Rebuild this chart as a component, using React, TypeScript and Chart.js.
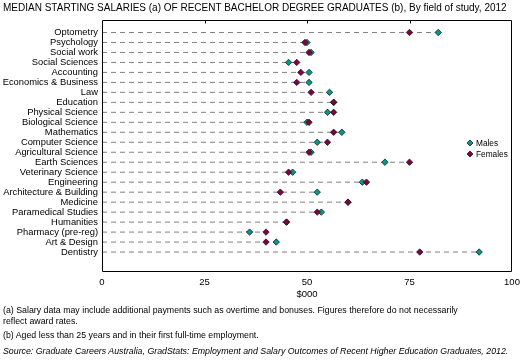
import React, { useEffect, useRef } from 'react';
import { Chart, registerables } from 'chart.js';

Chart.register(...registerables);

const categories = [
  'Optometry', 'Psychology', 'Social work', 'Social Sciences', 'Accounting',
  'Economics & Business', 'Law', 'Education', 'Physical Science', 'Biological Science',
  'Mathematics', 'Computer Science', 'Agricultural Science', 'Earth Sciences',
  'Veterinary Science', 'Engineering', 'Architecture & Building', 'Medicine',
  'Paramedical Studies', 'Humanities', 'Pharmacy (pre-reg)', 'Art & Design', 'Dentistry',
];
const males = [82, 50, 51, 45.5, 50.5, 50.5, 55.5, 56.5, 55, 50, 58.5, 52.5, 51, 69, 46.5, 63.5, 52.5, 60, 53.5, 45, 36, 42.5, 92];
const females = [75, 49.5, 50.5, 47.5, 48.5, 47.5, 51, 56.5, 56.5, 50.5, 56.5, 55, 50.5, 75, 45.5, 64.5, 43.5, 60, 52.5, 45, 40, 40, 77.5];
const xTickValues = [0, 25, 50, 75, 100];
const seriesNames = ['Males', 'Females'];
const seriesColors = ['#00998a', '#820045'];

const FONT = '"Liberation Sans", Arial, Helvetica, sans-serif';

const boxPlugin = {
  id: 'boxAndTicks',
  afterDraw(chart: any) {
    const { ctx, chartArea: a, scales } = chart;
    ctx.save();
    ctx.strokeStyle = '#000';
    ctx.lineWidth = 1;
    const l = Math.round(a.left) + 0.5;
    const r = Math.round(a.right) - 0.5;
    const t = Math.round(a.top) + 0.5;
    const b = Math.round(a.bottom) - 0.5;
    ctx.beginPath();
    ctx.moveTo(l, t);
    ctx.lineTo(r, t);
    ctx.lineTo(r, b);
    ctx.lineTo(l, b);
    ctx.closePath();
    ctx.stroke();
    ctx.beginPath();
    for (const v of xTickValues.slice(1, -1)) {
      const x = Math.round(scales.x.getPixelForValue(v)) + 0.5;
      ctx.moveTo(x, t);
      ctx.lineTo(x, t + 3);
    }
    ctx.stroke();
    ctx.restore();
  },
};

export default function App() {
  const ref = useRef<HTMLCanvasElement>(null);

  useEffect(() => {
    document.body.style.margin = '0';
    const lineSets = categories.map((_, i) => ({
      type: 'scatter' as const,
      label: 'line' + i,
      data: [
        { x: 0, y: i },
        { x: Math.max(males[i], females[i]), y: i },
      ],
      showLine: true,
      borderColor: '#808080',
      borderWidth: 1,
      borderDash: [5, 4],
      pointRadius: 0,
      order: 10,
    }));
    const pointSets = [males, females].map((vals, s) => ({
      type: 'scatter' as const,
      label: seriesNames[s],
      data: vals.map((v, i) => ({ x: v, y: i })),
      pointStyle: 'rectRot',
      pointRadius: 3.2,
      backgroundColor: seriesColors[s],
      borderColor: '#1a1a1a',
      borderWidth: 0.8,
      showLine: false,
      order: s === 0 ? 1 : 0,
    }));

    const chart = new Chart(ref.current as HTMLCanvasElement, {
      type: 'scatter',
      data: { datasets: [...lineSets, ...pointSets] as any },
      options: {
        animation: false,
        responsive: false,
        events: [],
        layout: { padding: { left: 0, top: 20, right: 17, bottom: 63 } },
        plugins: { legend: { display: false }, tooltip: { enabled: false }, title: { display: false } },
        scales: {
          x: {
            type: 'linear',
            position: 'bottom',
            min: 0,
            max: 100,
            afterBuildTicks: (scale: any) => {
              scale.ticks = xTickValues.map((v) => ({ value: v }));
            },
            afterFit: (scale: any) => {
              scale.height = 28;
            },
            grid: { display: false, drawTicks: false },
            border: { display: false },
            ticks: { color: '#000', font: { family: FONT, size: 9.5 }, padding: 5, maxRotation: 0 },
            title: {
              display: true,
              text: '$000',
              color: '#000',
              font: { family: FONT, size: 9.5 },
              padding: { top: 0, bottom: 0 },
            },
          },
          y: {
            type: 'linear',
            reverse: true,
            min: -1.25,
            max: 24,
            afterBuildTicks: (scale: any) => {
              scale.ticks = categories.map((_, i) => ({ value: i }));
            },
            afterFit: (scale: any) => {
              scale.width = 102;
            },
            grid: { display: false, drawTicks: false },
            border: { display: false },
            ticks: {
              color: '#000',
              font: { family: FONT, size: 9.4 },
              padding: 4,
              autoSkip: false,
              callback: (v: any) => categories[v as number] ?? '',
            },
          },
        },
      },
      plugins: [boxPlugin],
    });
    return () => chart.destroy();
  }, []);

  const text: React.CSSProperties = {
    position: 'absolute',
    fontFamily: FONT,
    color: '#000',
    whiteSpace: 'nowrap',
  };

  return (
    <div style={{ position: 'absolute', left: 0, top: 0, width: 529, height: 363, background: '#fff' }}>
      <canvas ref={ref} width={529} height={363} style={{ position: 'absolute', left: 0, top: 0, width: 529, height: 363 }} />
      <div style={{ ...text, left: 3, top: 2, fontSize: 10, lineHeight: '12px' }}>
        MEDIAN STARTING SALARIES (a) OF RECENT BACHELOR DEGREE GRADUATES (b), By field of study, 2012
      </div>
      {seriesNames.map((name, s) => (
        <div key={name} style={{ ...text, left: 466, top: 138 + s * 10.5, fontSize: 8.3, lineHeight: '10px', display: 'flex', alignItems: 'center' }}>
          <svg width="8" height="8" style={{ marginRight: 2 }}>
            <polygon points="4,1 7,4 4,7 1,4" fill={seriesColors[s]} stroke="#1a1a1a" strokeWidth="0.8" />
          </svg>
          <span>{name}</span>
        </div>
      ))}
      <div style={{ ...text, left: 3, top: 305, fontSize: 8.8, lineHeight: '10px' }}>
        (a) Salary data may include additional payments such as overtime and bonuses. Figures therefore do not necessarily
      </div>
      <div style={{ ...text, left: 3, top: 315.5, fontSize: 8.8, lineHeight: '10px' }}>reflect award rates.</div>
      <div style={{ ...text, left: 3, top: 329.5, fontSize: 8.8, lineHeight: '10px' }}>
        (b) Aged less than 25 years and in their first full-time employment.
      </div>
      <div style={{ ...text, left: 3, top: 346, fontSize: 8.8, lineHeight: '10px', fontStyle: 'italic' }}>
        Source: Graduate Careers Australia, GradStats: Employment and Salary Outcomes of Recent Higher Education Graduates, 2012.
      </div>
    </div>
  );
}
